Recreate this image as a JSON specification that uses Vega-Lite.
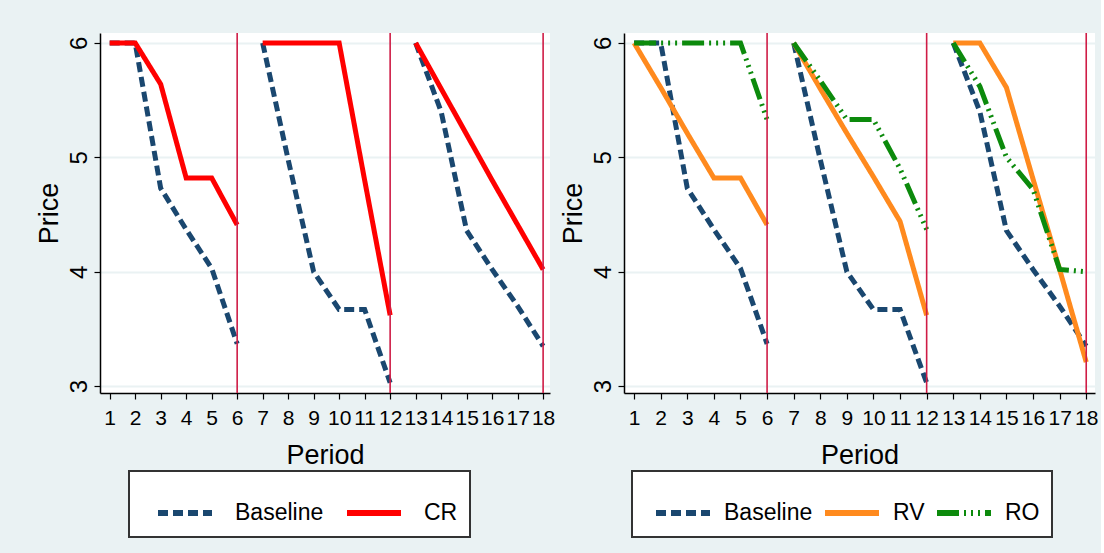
{
  "$schema": "https://vega.github.io/schema/vega-lite/v6.json",
  "background": "#eaf2f3",
  "padding": {"left": 35, "top": 32, "right": 3, "bottom": 16},
  "bounds": "flush",
  "spacing": 74,
  "datasets": {
    "rules": [{"period": 6}, {"period": 12}, {"period": 18}],
    "left": [
      {"series": "Baseline", "block": 1, "period": 1, "price": 6},
      {"series": "Baseline", "block": 1, "period": 2, "price": 6},
      {"series": "Baseline", "block": 1, "period": 3, "price": 4.73},
      {"series": "Baseline", "block": 1, "period": 4, "price": 4.37},
      {"series": "Baseline", "block": 1, "period": 5, "price": 4.03},
      {"series": "Baseline", "block": 1, "period": 6, "price": 3.37},
      {"series": "Baseline", "block": 2, "period": 7, "price": 6},
      {"series": "Baseline", "block": 2, "period": 8, "price": 4.98},
      {"series": "Baseline", "block": 2, "period": 9, "price": 4.0},
      {"series": "Baseline", "block": 2, "period": 10, "price": 3.67},
      {"series": "Baseline", "block": 2, "period": 11, "price": 3.67},
      {"series": "Baseline", "block": 2, "period": 12, "price": 3.03},
      {"series": "Baseline", "block": 3, "period": 13, "price": 6},
      {"series": "Baseline", "block": 3, "period": 14, "price": 5.4},
      {"series": "Baseline", "block": 3, "period": 15, "price": 4.36},
      {"series": "Baseline", "block": 3, "period": 16, "price": 4.02},
      {"series": "Baseline", "block": 3, "period": 17, "price": 3.7},
      {"series": "Baseline", "block": 3, "period": 18, "price": 3.35},
      {"series": "CR", "block": 1, "period": 1, "price": 6},
      {"series": "CR", "block": 1, "period": 2, "price": 6},
      {"series": "CR", "block": 1, "period": 3, "price": 5.64},
      {"series": "CR", "block": 1, "period": 4, "price": 4.82},
      {"series": "CR", "block": 1, "period": 5, "price": 4.82},
      {"series": "CR", "block": 1, "period": 6, "price": 4.41},
      {"series": "CR", "block": 2, "period": 7, "price": 6},
      {"series": "CR", "block": 2, "period": 8, "price": 6},
      {"series": "CR", "block": 2, "period": 9, "price": 6},
      {"series": "CR", "block": 2, "period": 10, "price": 6},
      {"series": "CR", "block": 2, "period": 11, "price": 4.8},
      {"series": "CR", "block": 2, "period": 12, "price": 3.62},
      {"series": "CR", "block": 3, "period": 13, "price": 6},
      {"series": "CR", "block": 3, "period": 14, "price": 5.6},
      {"series": "CR", "block": 3, "period": 15, "price": 5.2},
      {"series": "CR", "block": 3, "period": 16, "price": 4.8},
      {"series": "CR", "block": 3, "period": 17, "price": 4.41},
      {"series": "CR", "block": 3, "period": 18, "price": 4.02}
    ],
    "right": [
      {"series": "Baseline", "block": 1, "period": 1, "price": 6},
      {"series": "Baseline", "block": 1, "period": 2, "price": 6},
      {"series": "Baseline", "block": 1, "period": 3, "price": 4.73},
      {"series": "Baseline", "block": 1, "period": 4, "price": 4.37},
      {"series": "Baseline", "block": 1, "period": 5, "price": 4.03},
      {"series": "Baseline", "block": 1, "period": 6, "price": 3.37},
      {"series": "Baseline", "block": 2, "period": 7, "price": 6},
      {"series": "Baseline", "block": 2, "period": 8, "price": 4.98},
      {"series": "Baseline", "block": 2, "period": 9, "price": 4.0},
      {"series": "Baseline", "block": 2, "period": 10, "price": 3.67},
      {"series": "Baseline", "block": 2, "period": 11, "price": 3.67},
      {"series": "Baseline", "block": 2, "period": 12, "price": 3.03},
      {"series": "Baseline", "block": 3, "period": 13, "price": 6},
      {"series": "Baseline", "block": 3, "period": 14, "price": 5.4},
      {"series": "Baseline", "block": 3, "period": 15, "price": 4.36},
      {"series": "Baseline", "block": 3, "period": 16, "price": 4.02},
      {"series": "Baseline", "block": 3, "period": 17, "price": 3.7},
      {"series": "Baseline", "block": 3, "period": 18, "price": 3.35},
      {"series": "RV", "block": 1, "period": 1, "price": 6},
      {"series": "RV", "block": 1, "period": 2, "price": 5.61},
      {"series": "RV", "block": 1, "period": 3, "price": 5.21},
      {"series": "RV", "block": 1, "period": 4, "price": 4.82},
      {"series": "RV", "block": 1, "period": 5, "price": 4.82},
      {"series": "RV", "block": 1, "period": 6, "price": 4.41},
      {"series": "RV", "block": 2, "period": 7, "price": 6},
      {"series": "RV", "block": 2, "period": 8, "price": 5.6},
      {"series": "RV", "block": 2, "period": 9, "price": 5.21},
      {"series": "RV", "block": 2, "period": 10, "price": 4.83},
      {"series": "RV", "block": 2, "period": 11, "price": 4.44},
      {"series": "RV", "block": 2, "period": 12, "price": 3.62},
      {"series": "RV", "block": 3, "period": 13, "price": 6},
      {"series": "RV", "block": 3, "period": 14, "price": 6},
      {"series": "RV", "block": 3, "period": 15, "price": 5.61},
      {"series": "RV", "block": 3, "period": 16, "price": 4.81},
      {"series": "RV", "block": 3, "period": 17, "price": 4.02},
      {"series": "RV", "block": 3, "period": 18, "price": 3.21},
      {"series": "RO", "block": 1, "period": 1, "price": 6},
      {"series": "RO", "block": 1, "period": 2, "price": 6},
      {"series": "RO", "block": 1, "period": 3, "price": 6},
      {"series": "RO", "block": 1, "period": 4, "price": 6},
      {"series": "RO", "block": 1, "period": 5, "price": 6},
      {"series": "RO", "block": 1, "period": 6, "price": 5.33},
      {"series": "RO", "block": 2, "period": 7, "price": 6},
      {"series": "RO", "block": 2, "period": 8, "price": 5.67},
      {"series": "RO", "block": 2, "period": 9, "price": 5.33},
      {"series": "RO", "block": 2, "period": 10, "price": 5.33},
      {"series": "RO", "block": 2, "period": 11, "price": 4.9},
      {"series": "RO", "block": 2, "period": 12, "price": 4.37},
      {"series": "RO", "block": 3, "period": 13, "price": 6},
      {"series": "RO", "block": 3, "period": 14, "price": 5.62},
      {"series": "RO", "block": 3, "period": 15, "price": 5.0},
      {"series": "RO", "block": 3, "period": 16, "price": 4.72},
      {"series": "RO", "block": 3, "period": 17, "price": 4.02},
      {"series": "RO", "block": 3, "period": 18, "price": 4.0}
    ]
  },
  "hconcat": [
    {
      "width": 450,
      "height": 360,
      "encoding": {
        "x": {
          "field": "period", "type": "quantitative",
          "scale": {"domain": [0.62, 18.27], "nice": false, "zero": false},
          "axis": {
            "values": [1, 2, 3, 4, 5, 6, 7, 8, 9, 10, 11, 12, 13, 14, 15, 16, 17, 18],
            "grid": false, "labelFontSize": 21, "labelOverlap": false, "labelFlush": false,
            "labelBaseline": "alphabetic", "labelPadding": 25,
            "title": "Period", "titleFontSize": 27, "titleBaseline": "alphabetic", "titleY": 70
          }
        }
      },
      "layer": [
        {
          "data": {"name": "left"},
          "mark": {"type": "line", "strokeWidth": 5},
          "encoding": {
            "y": {
              "field": "price", "type": "quantitative",
              "scale": {"domain": [2.94, 6.087], "nice": false, "zero": false},
              "axis": {
                "values": [3, 4, 5, 6], "grid": true,
                "labelAngle": -90, "labelAlign": "center", "labelBaseline": "alphabetic",
                "labelPadding": 8, "labelFontSize": 24,
                "title": "Price", "titleFontSize": 27, "titleX": -43, "titleBaseline": "alphabetic"
              }
            },
            "color": {
              "field": "series", "type": "nominal",
              "scale": {"domain": ["Baseline", "CR"], "range": ["#1a476f", "#ff0000"]},
              "legend": {
                "title": null, "orient": "none", "legendX": 29, "legendY": 438,
                "direction": "horizontal", "padding": 12,
                "columnPadding": 6, "labelOffset": 20, "symbolOffset": 14, "symbolType": "stroke",
                "symbolSize": 2916, "symbolStrokeWidth": 6, "labelFontSize": 23,
                "fillColor": "white", "strokeColor": "#333333",
                "encode": {
                  "legend": {"update": {"strokeWidth": {"value": 2}}},
                  "labels": {"update": {"text": {"signal": "datum.label == 'CR' ? 'CR\u2003\u2003\u00a0' : datum.label"}}}
                }
              }
            },
            "strokeDash": {
              "field": "series", "type": "nominal",
              "scale": {"domain": ["Baseline", "CR"], "range": [[10, 5], [1, 0]]},
              "legend": {
                "title": null, "orient": "none", "legendX": 29, "legendY": 438,
                "direction": "horizontal", "padding": 12,
                "columnPadding": 6, "labelOffset": 20, "symbolOffset": 14, "symbolType": "stroke",
                "symbolSize": 2916, "symbolStrokeWidth": 6, "labelFontSize": 23,
                "fillColor": "white", "strokeColor": "#333333",
                "encode": {
                  "legend": {"update": {"strokeWidth": {"value": 2}}},
                  "labels": {"update": {"text": {"signal": "datum.label == 'CR' ? 'CR\u2003\u2003\u00a0' : datum.label"}}}
                }
              }
            },
            "detail": {"field": "block", "type": "nominal"}
          }
        },
        {
          "data": {"name": "rules"},
          "mark": {"type": "rule", "color": "#cf1c46", "strokeWidth": 1.6},
          "encoding": {}
        }
      ]
    },
    {
      "width": 471,
      "height": 360,
      "encoding": {
        "x": {
          "field": "period", "type": "quantitative",
          "scale": {"domain": [0.62, 18.33], "nice": false, "zero": false},
          "axis": {
            "values": [1, 2, 3, 4, 5, 6, 7, 8, 9, 10, 11, 12, 13, 14, 15, 16, 17, 18],
            "grid": false, "labelFontSize": 21, "labelOverlap": false, "labelFlush": false,
            "labelBaseline": "alphabetic", "labelPadding": 25,
            "title": "Period", "titleFontSize": 27, "titleBaseline": "alphabetic", "titleY": 70
          }
        }
      },
      "layer": [
        {
          "data": {"name": "right"},
          "mark": {"type": "line", "strokeWidth": 5},
          "encoding": {
            "y": {
              "field": "price", "type": "quantitative",
              "scale": {"domain": [2.94, 6.087], "nice": false, "zero": false},
              "axis": {
                "values": [3, 4, 5, 6], "grid": true,
                "labelAngle": -90, "labelAlign": "center", "labelBaseline": "alphabetic",
                "labelPadding": 8, "labelFontSize": 24,
                "title": "Price", "titleFontSize": 27, "titleX": -43, "titleBaseline": "alphabetic"
              }
            },
            "color": {
              "field": "series", "type": "nominal",
              "scale": {"domain": ["Baseline", "RV", "RO"], "range": ["#1a476f", "#ff8a1e", "#0c8a0c"]},
              "legend": {
                "title": null, "orient": "none", "legendX": 8, "legendY": 438,
                "direction": "horizontal", "padding": 12,
                "columnPadding": 0, "labelOffset": 11, "symbolOffset": 9, "symbolType": "stroke",
                "symbolSize": 2916, "symbolStrokeWidth": 6, "labelFontSize": 23,
                "fillColor": "white", "strokeColor": "#333333",
                "encode": {
                  "legend": {"update": {"strokeWidth": {"value": 2}}},
                  "labels": {"update": {"text": {"signal": "datum.label == 'RV' ? 'RV\u00a0\u00a0' : datum.label == 'RO' ? 'RO\u2003\u00a0' : datum.label"}}}
                }
              }
            },
            "strokeDash": {
              "field": "series", "type": "nominal",
              "scale": {"domain": ["Baseline", "RV", "RO"], "range": [[10, 5], [1, 0], [22, 5, 2, 5, 2, 5, 2, 5]]},
              "legend": {
                "title": null, "orient": "none", "legendX": 8, "legendY": 438,
                "direction": "horizontal", "padding": 12,
                "columnPadding": 0, "labelOffset": 11, "symbolOffset": 9, "symbolType": "stroke",
                "symbolSize": 2916, "symbolStrokeWidth": 6, "labelFontSize": 23,
                "fillColor": "white", "strokeColor": "#333333",
                "encode": {
                  "legend": {"update": {"strokeWidth": {"value": 2}}},
                  "labels": {"update": {"text": {"signal": "datum.label == 'RV' ? 'RV\u00a0\u00a0' : datum.label == 'RO' ? 'RO\u2003\u00a0' : datum.label"}}}
                }
              }
            },
            "detail": {"field": "block", "type": "nominal"}
          }
        },
        {
          "data": {"name": "rules"},
          "mark": {"type": "rule", "color": "#cf1c46", "strokeWidth": 1.6},
          "encoding": {}
        }
      ]
    }
  ],
  "resolve": {
    "scale": {"x": "independent", "y": "independent", "color": "independent", "strokeDash": "independent"},
    "legend": {"color": "independent", "strokeDash": "independent"}
  },
  "config": {
    "view": {"stroke": null, "fill": "white"},
    "font": "Liberation Sans",
    "axis": {
      "domainColor": "#000000", "domainWidth": 1.5, "tickColor": "#000000", "tickSize": 6, "tickWidth": 1.2,
      "labelColor": "#000000", "titleColor": "#000000", "labelFont": "Liberation Sans", "titleFont": "Liberation Sans",
      "titleFontWeight": "normal", "gridColor": "#eaf2f3", "gridWidth": 2
    },
    "legend": {"labelFont": "Liberation Sans", "labelColor": "#000000"}
  }
}
